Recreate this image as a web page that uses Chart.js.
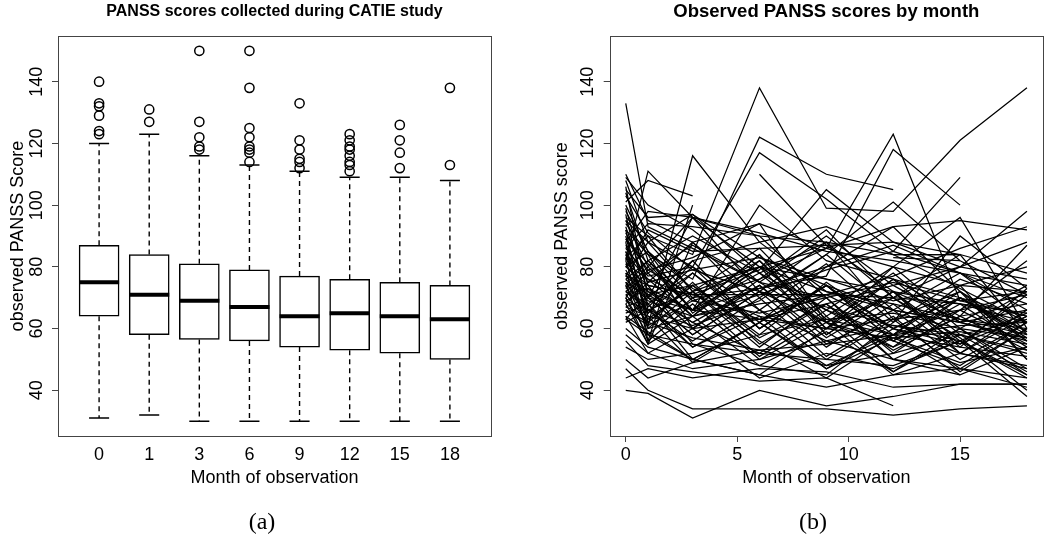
<!DOCTYPE html>
<html>
<head>
<meta charset="utf-8">
<script src="https://cdn.jsdelivr.net/npm/chart.js@4.4.1/dist/chart.umd.min.js"></script>
<style>
html, body { margin: 0; padding: 0; background: #fff; }
#wrap { position: relative; width: 1050px; height: 540px; }
canvas { position: absolute; top: 0; }
#left { left: 0; }
#right { left: 525px; }
</style>
</head>
<body>
<div id="wrap">
  <canvas id="left" width="525" height="540"></canvas>
  <canvas id="right" width="525" height="540"></canvas>
</div>
<script>
// boxplot of PANSS by visit (panel a)
var monthLabels = ['0', '1', '3', '6', '9', '12', '15', '18'];
var boxLower = [31, 32, 30, 30, 30, 30, 30, 30];
var boxQ1 = [64, 58, 56.5, 56, 54, 53, 52, 50];
var boxMedian = [75, 71, 69, 67, 64, 65, 64, 63];
var boxQ3 = [87, 84, 81, 79, 77, 76, 75, 74];
var boxUpper = [120, 123, 116, 113, 111, 109, 109, 108];
var boxOutliers = [
    [140, 133, 132, 129, 124, 123],
    [131, 127],
    [150, 127, 122, 119, 118],
    [150, 138, 125, 122, 119, 118, 117, 114],
    [133, 121, 118, 115, 114, 112],
    [123, 121, 119, 118, 116, 114, 113, 111],
    [126, 121, 117, 112],
    [138, 113]
];
var yTicks = [40, 60, 80, 100, 120, 140];

// individual trajectories (panel b), one row per subject, columns = months
var months = [0, 1, 3, 6, 9, 12, 15, 18];
var monthTicks = [0, 5, 10, 15];
var trajectories = [
    [133, 93, 86, 75, 70, null, null, null],
    [82, 111, 96, 80, 72, 68, 63, 60],
    [101, 108, 103, null, null, null, null, null],
    [74, 61, 116, 88, 72, 66, 62, 57],
    [88, 56, 100, null, null, null, null, null],
    [96, 90, 84, 138, 99, 98, 121, 138],
    [92, 84, 76, 122, 110, 105, null, null],
    [86, 77, 80, 117, 102, 85, 78, 70],
    [null, null, null, 110, 87, 72, 63, 58],
    [78, 72, 66, 100, 82, 76, 70, 64],
    [70, 79, 83, 94, 86, 80, 74, 72],
    [80, 74, 71, 79, 105, 88, 80, 76],
    [66, 61, 69, 76, 86, 123, 69, 64],
    [84, 76, 70, 73, 77, 118, 100, null],
    [76, 69, 64, 71, 79, 85, 109, null],
    [69, 66, 61, 69, 84, 101, 82, 71],
    [71, 73, 66, 63, 68, 74, 80, 98],
    [77, 71, 74, 80, 86, 93, 95, 92],
    [67, 64, 60, 63, 71, 77, 86, 93],
    [40, 39, 31, 40, 35, 38, 42, 42],
    [47, 40, 34, 34, 34, 32, 34, 35],
    [56, 48, 46, 43, 44, 35, null, null],
    [63, 58, 55, 52, 50, 48, 56, 38],
    [44, 47, 44, 47, 46, 41, 42, 42],
    [110, 95, 88, 70, 84, 66, 78, 62],
    [109, 100, 92, 75, 90, 74, 62, 66],
    [108, 88, 72, 86, 64, 78, 60, 72],
    [106, 70, 82, 60, 74, 56, 68, 54],
    [105, 96, 97, 78, 88, 63, 72, 56],
    [98, 85, 65, 80, 58, 72, 52, 64],
    [95, 80, 96, 72, 88, 70, 84, 58],
    [93, 72, 62, 74, 55, 66, 50, 62],
    [91, 78, 64, 82, 62, 54, 70, 56],
    [90, 62, 75, 55, 68, 50, 60, 45],
    [89, 81, 66, 78, 60, 72, 56, 44],
    [87, 75, 88, 66, 81, 62, 76, 68],
    [85, 70, 58, 72, 54, 68, 52, 66],
    [84, 65, 78, 60, 74, 56, 70, 59],
    [83, 68, 54, 66, 50, 63, 47, 60],
    [82, 58, 70, 51, 64, 46, 60, 47],
    [81, 76, 64, 80, 66, 80, 62, 74],
    [80, 85, 70, 82, 60, 76, 58, 52],
    [79, 67, 80, 60, 74, 58, 72, 59],
    [78, 60, 72, 54, 70, 52, 66, 55],
    [77, 74, 71, 71, 71, 70, 68, 65],
    [76, 82, 66, 84, 63, 58, 74, 50],
    [75, 63, 74, 57, 68, 53, 64, 53],
    [74, 56, 68, 50, 62, 56, 48, 62],
    [73, 80, 66, 84, 58, 72, 54, 73],
    [72, 66, 56, 70, 51, 64, 46, 60],
    [71, 62, 74, 58, 75, 60, 70, 57],
    [70, 58, 50, 62, 48, 58, 45, 54],
    [69, 73, 60, 74, 57, 70, 55, 64],
    [68, 55, 64, 48, 59, 46, 58, 46],
    [67, 70, 58, 72, 62, 76, 64, 87],
    [65, 68, 78, 62, 74, 60, 70, 58],
    [64, 59, 50, 62, 47, 60, 55, 71],
    [63, 71, 62, 52, 66, 54, 64, 68],
    [62, 66, 54, 64, 47, 57, 49, 54],
    [80, 92, 85, 86, 87, 88, 84, 78],
    [86, 94, 93, 90, 88, 84, 84, null],
    [88, 98, 96, 91, 85, 82, 78, 74],
    [95, 88, 97, 83, 74, 66, 62, 56],
    [100, 85, 73, 64, 60, 57, 59, 55],
    [103, 91, 79, 72, 67, 61, 56, 45],
    [75, 65, 82, 88, 93, 84, 73, 62],
    [72, 78, 87, 75, 62, 70, 80, 88],
    [54, 50, 52, 58, 63, 65, 60, 57],
    [50, 44, 49, 53, 48, 52, 58, 63],
    [58, 52, 47, 50, 56, 61, 58, 53],
    [60, 54, 50, 45, 41, 45, 47, 41],
    [92, 60, 64, 68, 71, 60, 52, 48],
    [104, 82, 69, 65, 70, 75, 69, 72],
    [97, 66, 72, 80, 76, 69, 74, 80],
    [66, 62, 57, 53, 55, 58, 61, 62],
    [74, 82, 90, 78, 66, 58, 54, 51],
    [81, 70, 66, 73, 80, 87, 78, 66],
    [89, 79, 71, 63, 60, 63, 66, 71],
    [68, 75, 79, 83, 76, 72, 68, 62],
    [77, 88, 80, 66, 56, 50, 47, 44],
    [null, null, null, null, null, 84, 84, null],
    [null, null, null, null, null, 83, 82, null],
    [75, 70, 96, 90, 70, 50, 45, null],
    [72, 68, 50, 45, 60, 80, 96, 60],
    [94, 84, 60, 44, 52, 47, 56, 65],
    [70, 55, 88, 94, 62, 45, 52, 47],
    [85, 64, 49, 62, 80, 93, 72, 50],
    [64, 52, 60, 76, 92, 70, 57, 40],
    [99, 74, 55, 48, 45, 62, 90, 73],
    [83, 90, 72, 56, 44, 58, 66, 82]
];

var FONT = '"Liberation Sans", Arial, Helvetica, sans-serif';

// box around the plot region + sub-figure caption
var framePlugin = {
    id: 'frame',
    afterDatasetsDraw: function (chart) {
        var a = chart.chartArea, ctx = chart.ctx;
        ctx.save();
        ctx.strokeStyle = '#444';
        ctx.lineWidth = 1;
        ctx.strokeRect(Math.round(a.left) + 0.5, Math.round(a.top) + 0.5,
            Math.round(a.right - a.left), Math.round(a.bottom - a.top));
        ctx.restore();
    },
    afterDraw: function (chart, args, opts) {
        var ctx = chart.ctx;
        ctx.save();
        ctx.fillStyle = '#000';
        ctx.font = '24px "Liberation Serif", "DejaVu Serif", serif';
        ctx.textAlign = 'center';
        ctx.textBaseline = 'middle';
        ctx.fillText(opts.caption, opts.x, opts.y);
        ctx.restore();
    }
};

function fixedTicks(values) {
    return function (scale) {
        scale.ticks = values.map(function (v) { return { value: v }; });
    };
}

function yAxis(width, titleText, titlePad, tickPad) {
    return {
        type: 'linear',
        min: 25.2,
        max: 154.8,
        afterBuildTicks: fixedTicks(yTicks),
        afterFit: function (s) { s.width = width; },
        grid: { drawOnChartArea: false, drawTicks: true, tickLength: 6, tickColor: '#444' },
        border: { display: false },
        ticks: {
            font: { family: FONT, size: 18 }, color: '#000',
            minRotation: 90, maxRotation: 90, crossAlign: 'center',
            padding: tickPad, autoSkip: false
        },
        title: {
            display: true, text: titleText, color: '#000',
            font: { family: FONT, size: 18 }, padding: { top: titlePad, bottom: 0 }
        }
    };
}

function xTitle() {
    return {
        display: true, text: 'Month of observation', color: '#000',
        font: { family: FONT, size: 18 }, padding: { top: 0, bottom: 0 }
    };
}

// ---- panel (a): boxplot ----
var boxes = [], medians = [], whiskers = [], caps = [], outlierPts = [];
monthLabels.forEach(function (m, i) {
    var x = i + 1;
    boxes.push({ x: x, y: [boxQ1[i], boxQ3[i]] });
    medians.push({ x: x - 0.4, y: boxMedian[i] }, { x: x + 0.4, y: boxMedian[i] }, { x: x, y: null });
    whiskers.push({ x: x, y: boxQ3[i] }, { x: x, y: boxUpper[i] }, { x: x, y: null });
    whiskers.push({ x: x, y: boxQ1[i] }, { x: x, y: boxLower[i] }, { x: x, y: null });
    caps.push({ x: x - 0.2, y: boxUpper[i] }, { x: x + 0.2, y: boxUpper[i] }, { x: x, y: null });
    caps.push({ x: x - 0.2, y: boxLower[i] }, { x: x + 0.2, y: boxLower[i] }, { x: x, y: null });
    boxOutliers[i].forEach(function (v) { outlierPts.push({ x: x, y: v }); });
});

var segLine = { type: 'line', borderColor: '#000', pointRadius: 0, spanGaps: false, tension: 0 };

new Chart(document.getElementById('left').getContext('2d'), {
    type: 'bar',
    data: {
        datasets: [
            { type: 'bar', data: boxes, backgroundColor: '#fff', borderColor: '#000', borderWidth: 1.5,
              borderSkipped: false, barThickness: 40, order: 4 },
            Object.assign({ data: whiskers, borderWidth: 1.4, borderDash: [5, 4], order: 3 }, segLine),
            Object.assign({ data: caps, borderWidth: 1.5, order: 2 }, segLine),
            Object.assign({ data: medians, borderWidth: 4, borderCapStyle: 'butt', order: 1 }, segLine),
            { type: 'line', data: outlierPts, showLine: false, pointRadius: 4.6, pointBorderWidth: 1.5,
              pointBorderColor: '#000', pointBackgroundColor: 'rgba(0,0,0,0)', borderColor: '#000', order: 0 }
        ]
    },
    options: {
        responsive: false,
        animation: false,
        devicePixelRatio: 1,
        layout: { padding: { left: 0, right: 34, top: 0, bottom: 51.2 } },
        plugins: {
            legend: { display: false },
            tooltip: { enabled: false },
            title: {
                display: true, fullSize: false,
                text: 'PANSS scores collected during CATIE study', color: '#000',
                font: { family: FONT, size: 16, weight: 'bold' },
                padding: { top: 2, bottom: 14.8 }
            },
            frame: { caption: '(a)', x: 262, y: 522.7 }
        },
        scales: {
            x: {
                type: 'linear', min: 0.18, max: 8.82, offset: false,
                afterBuildTicks: fixedTicks([1, 2, 3, 4, 5, 6, 7, 8]),
                afterFit: function (s) { s.height = 52.8; },
                grid: { offset: false, drawOnChartArea: false, drawTicks: true, tickLength: 6, tickColor: 'rgba(0,0,0,0)' },
                border: { display: false },
                ticks: {
                    font: { family: FONT, size: 18 }, color: '#000', padding: 2,
                    maxRotation: 0, autoSkip: false,
                    callback: function (v) { return monthLabels[v - 1]; }
                },
                title: xTitle()
            },
            y: yAxis(58, 'observed PANSS Score', 7.2, 0)
        }
    },
    plugins: [framePlugin]
});

// ---- panel (b): spaghetti plot ----
var lineSets = trajectories.map(function (row) {
    return {
        data: months.map(function (m, i) { return { x: m, y: row[i] }; }),
        borderColor: '#000', borderWidth: 1.25, pointRadius: 0, spanGaps: true, tension: 0
    };
});

new Chart(document.getElementById('right').getContext('2d'), {
    type: 'line',
    data: { datasets: lineSets },
    options: {
        responsive: false,
        animation: false,
        devicePixelRatio: 1,
        layout: { padding: { left: 0, right: 7, top: 0, bottom: 51.2 } },
        plugins: {
            legend: { display: false },
            tooltip: { enabled: false },
            title: {
                display: true, fullSize: false,
                text: 'Observed PANSS scores by month', color: '#000',
                font: { family: FONT, size: 18.5, weight: 'bold' },
                padding: { top: 0.9, bottom: 12.9 }
            },
            frame: { caption: '(b)', x: 288, y: 522.7 }
        },
        scales: {
            x: {
                type: 'linear', min: -0.72, max: 18.72,
                afterBuildTicks: fixedTicks(monthTicks),
                afterFit: function (s) { s.height = 52.8; },
                grid: { drawOnChartArea: false, drawTicks: true, tickLength: 6, tickColor: '#444' },
                border: { display: false },
                ticks: { font: { family: FONT, size: 18 }, color: '#000', padding: 2, maxRotation: 0, autoSkip: false },
                title: xTitle()
            },
            y: yAxis(84.7, 'observed PANSS score', 25.9, 0.7)
        }
    },
    plugins: [framePlugin]
});
</script>
</body>
</html>
